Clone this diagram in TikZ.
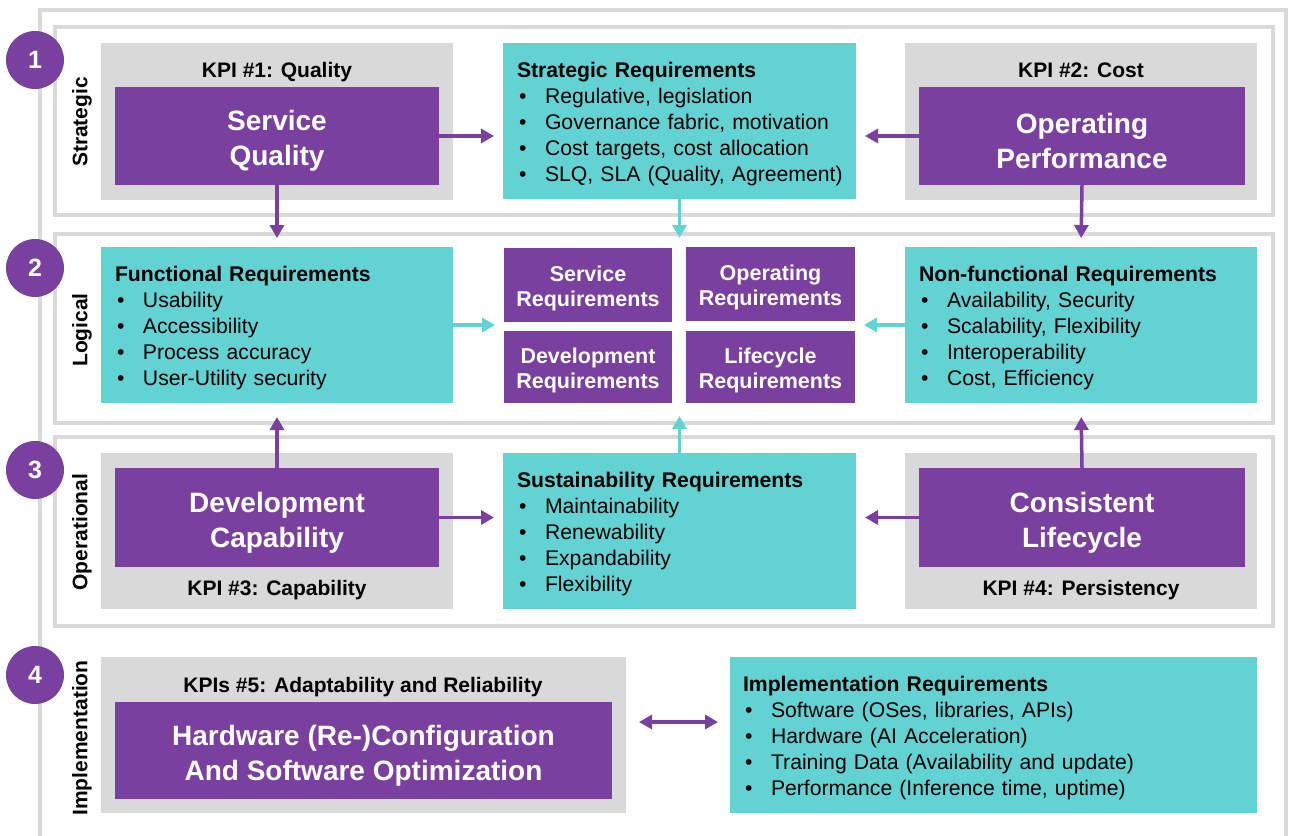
\documentclass[tikz,border=0pt]{standalone}
\usepackage{fontspec}
\setmainfont{Liberation Sans}
\usetikzlibrary{arrows.meta,fit}
\definecolor{pur}{HTML}{7A40A0}
\definecolor{tea}{HTML}{63D2D3}
\definecolor{gry}{HTML}{D9D9D9}
\newcommand{\blt}{\makebox[28pt][l]{\hspace{2pt}•}}
\newcommand{\bigup}{\rule{0pt}{30pt}}
\newcommand{\smup}{\rule{0pt}{23pt}}
\newcommand{\tup}{\rule{0pt}{21.5pt}}
\begin{document}
\begin{tikzpicture}[x=1pt,y=-1pt,
  box/.style={anchor=north west, inner sep=0pt, outer sep=0pt, draw=none},
  kpi/.style={box, fill=gry},
  pbox/.style={box, fill=pur, text=white, font=\bfseries\fontsize{28}{35}\selectfont, align=center},
  sbox/.style={box, fill=pur, text=white, font=\bfseries\fontsize{21.5}{25}\selectfont, align=center},
  tbox/.style={box, fill=tea, font=\fontsize{21.2}{26}\selectfont, align=left, inner xsep=14pt},
  band/.style={box, draw=gry, line width=4.5pt},
  kpilab/.style={anchor=base, font=\bfseries\fontsize{21}{24}\selectfont},
  rlab/.style={rotate=90, font=\bfseries\fontsize{21}{24}\selectfont},
  num/.style={circle, fill=pur, minimum size=58pt, inner sep=0pt, text=white, font=\bfseries\fontsize{25}{25}\selectfont},
  parr/.style={draw=pur, line width=3.5pt, -{Triangle[length=13pt,width=14pt]}, shorten >=9pt},
  tarr/.style={draw=tea, line width=3.5pt, -{Triangle[length=13pt,width=14pt]}, shorten >=9pt},
  darr/.style={draw=pur, line width=3.5pt, {Triangle[length=13pt,width=14pt]}-{Triangle[length=13pt,width=14pt]}}
]
\useasboundingbox (0,0) rectangle (1289,835);
\fill[white] (0,0) rectangle (1289,835);
% outer frame
\draw[gry, line width=3.5pt] (40,840) -- (40,10) -- (1286,10) -- (1286,840);
% bands
\node[band, minimum width=1218pt, minimum height=188pt] (b1) at (55,27) {};
\node[band, minimum width=1218pt, minimum height=189pt] (b2) at (55,234) {};
\node[band, minimum width=1218pt, minimum height=189pt] (b3) at (55,437) {};
% circles and side labels
\node[num] (c1) at (35,60) {1};
\node[num] (c2) at (35,268) {2};
\node[num] (c3) at (35,470) {3};
\node[num] (c4) at (35,675) {4};
\node[rlab] (l1) at (82,122) {Strategic};
\node[rlab] (l2) at (82,330) {Logical};
\node[rlab] (l3) at (82,532) {Operational};
\node[rlab] (l4) at (82,738) {Implementation};
% row 1
\node[kpi, minimum width=352pt, minimum height=157pt] (k1) at (101,43) {};
\node[pbox, minimum width=324pt, minimum height=98pt] (sq) at (115,87) {\bigup Service\\Quality};
\node[kpilab] (k1l) at (277,77) {KPI \#1: Quality};
\node[kpi, minimum width=352pt, minimum height=157pt] (k2) at (905,43) {};
\node[pbox, minimum width=326pt, minimum height=98pt] (op) at (919,87) {\bigup Operating\\Performance};
\node[kpilab] (k2l) at (1081,77) {KPI \#2: Cost};
\node[tbox, text width=325pt, minimum height=156pt] (sr) at (503,43) {\tup\textbf{Strategic Requirements}\\
\blt Regulative, legislation\\
\blt Governance fabric, motivation\\
\blt Cost targets, cost allocation\\
\mbox{\blt SLQ, SLA (Quality, Agreement)}};
% row 2
\node[tbox, text width=324pt, minimum height=156pt] (fr) at (101,247) {\tup\textbf{Functional Requirements}\\
\blt Usability\\
\blt Accessibility\\
\blt Process accuracy\\
\blt User-Utility security};
\node[tbox, text width=324pt, minimum height=156pt] (nf) at (905,247) {\tup\textbf{Non-functional Requirements}\\
\blt Availability, Security\\
\blt Scalability, Flexibility\\
\blt Interoperability\\
\blt Cost, Efficiency};
\node[sbox, minimum width=168pt, minimum height=74pt] (srq) at (504,248) {\smup Service\\Requirements};
\node[sbox, minimum width=169pt, minimum height=74pt] (orq) at (686,247) {\smup Operating\\Requirements};
\node[sbox, minimum width=168pt, minimum height=72pt] (drq) at (504,331) {\smup Development\\Requirements};
\node[sbox, minimum width=169pt, minimum height=72pt] (lrq) at (686,331) {\smup Lifecycle\\Requirements};
\node[fit=(srq)(orq)(drq)(lrq), inner sep=0pt, outer sep=0pt] (cg) {};
% row 3
\node[kpi, minimum width=352pt, minimum height=156pt] (k3) at (101,453) {};
\node[pbox, minimum width=324pt, minimum height=99pt] (dc) at (115,468) {\bigup Development\\Capability};
\node[kpilab] (k3l) at (277,595) {KPI \#3: Capability};
\node[kpi, minimum width=352pt, minimum height=156pt] (k4) at (905,453) {};
\node[pbox, minimum width=326pt, minimum height=99pt] (cl) at (919,468) {\bigup Consistent\\Lifecycle};
\node[kpilab] (k4l) at (1081,595) {KPI \#4: Persistency};
\node[tbox, text width=325pt, minimum height=156pt] (su) at (503,453) {\tup\textbf{Sustainability Requirements}\\
\blt Maintainability\\
\blt Renewability\\
\blt Expandability\\
\blt Flexibility};
% row 4
\node[kpi, minimum width=525pt, minimum height=156pt] (k5) at (101,657) {};
\node[pbox, minimum width=497pt, minimum height=97pt] (hw) at (115,702) {\bigup Hardware (Re-)Configuration\\And Software Optimization};
\node[kpilab] (k5l) at (363,692) {KPIs \#5: Adaptability and Reliability};
\node[tbox, text width=501pt, minimum height=156pt, inner xsep=13pt] (ir) at (730,657) {\tup\textbf{Implementation Requirements}\\
\blt Software (OSes, libraries, APIs)\\
\blt Hardware (AI Acceleration)\\
\blt Training Data (Availability and update)\\
\blt Performance (Inference time, uptime)};
\coordinate (da) at (626,722);
% arrows
\draw[parr] (sq.east) -- (sr.west |- sq.east);
\draw[parr] (op.west) -- (sr.east |- op.west);
\draw[parr] (sq.south) -- (fr.north);
\draw[parr] (op.south) -- (nf.north);
\draw[tarr] (sr.south) -- (cg.north);
\draw[tarr] (fr.east) -- (cg.west);
\draw[tarr] (nf.west) -- (cg.east);
\draw[tarr, shorten >=13pt] (su.north) -- (cg.south);
\draw[parr, shorten >=14pt] (dc.north) -- (fr.south);
\draw[parr, shorten >=14pt] (cl.north) -- (nf.south);
\draw[parr] (dc.east) -- (su.west |- dc.east);
\draw[parr] (cl.west) -- (su.east |- cl.west);
\draw[darr, shorten <=13pt, shorten >=12pt] (da) -- (ir.west |- da);
\end{tikzpicture}
\end{document}
